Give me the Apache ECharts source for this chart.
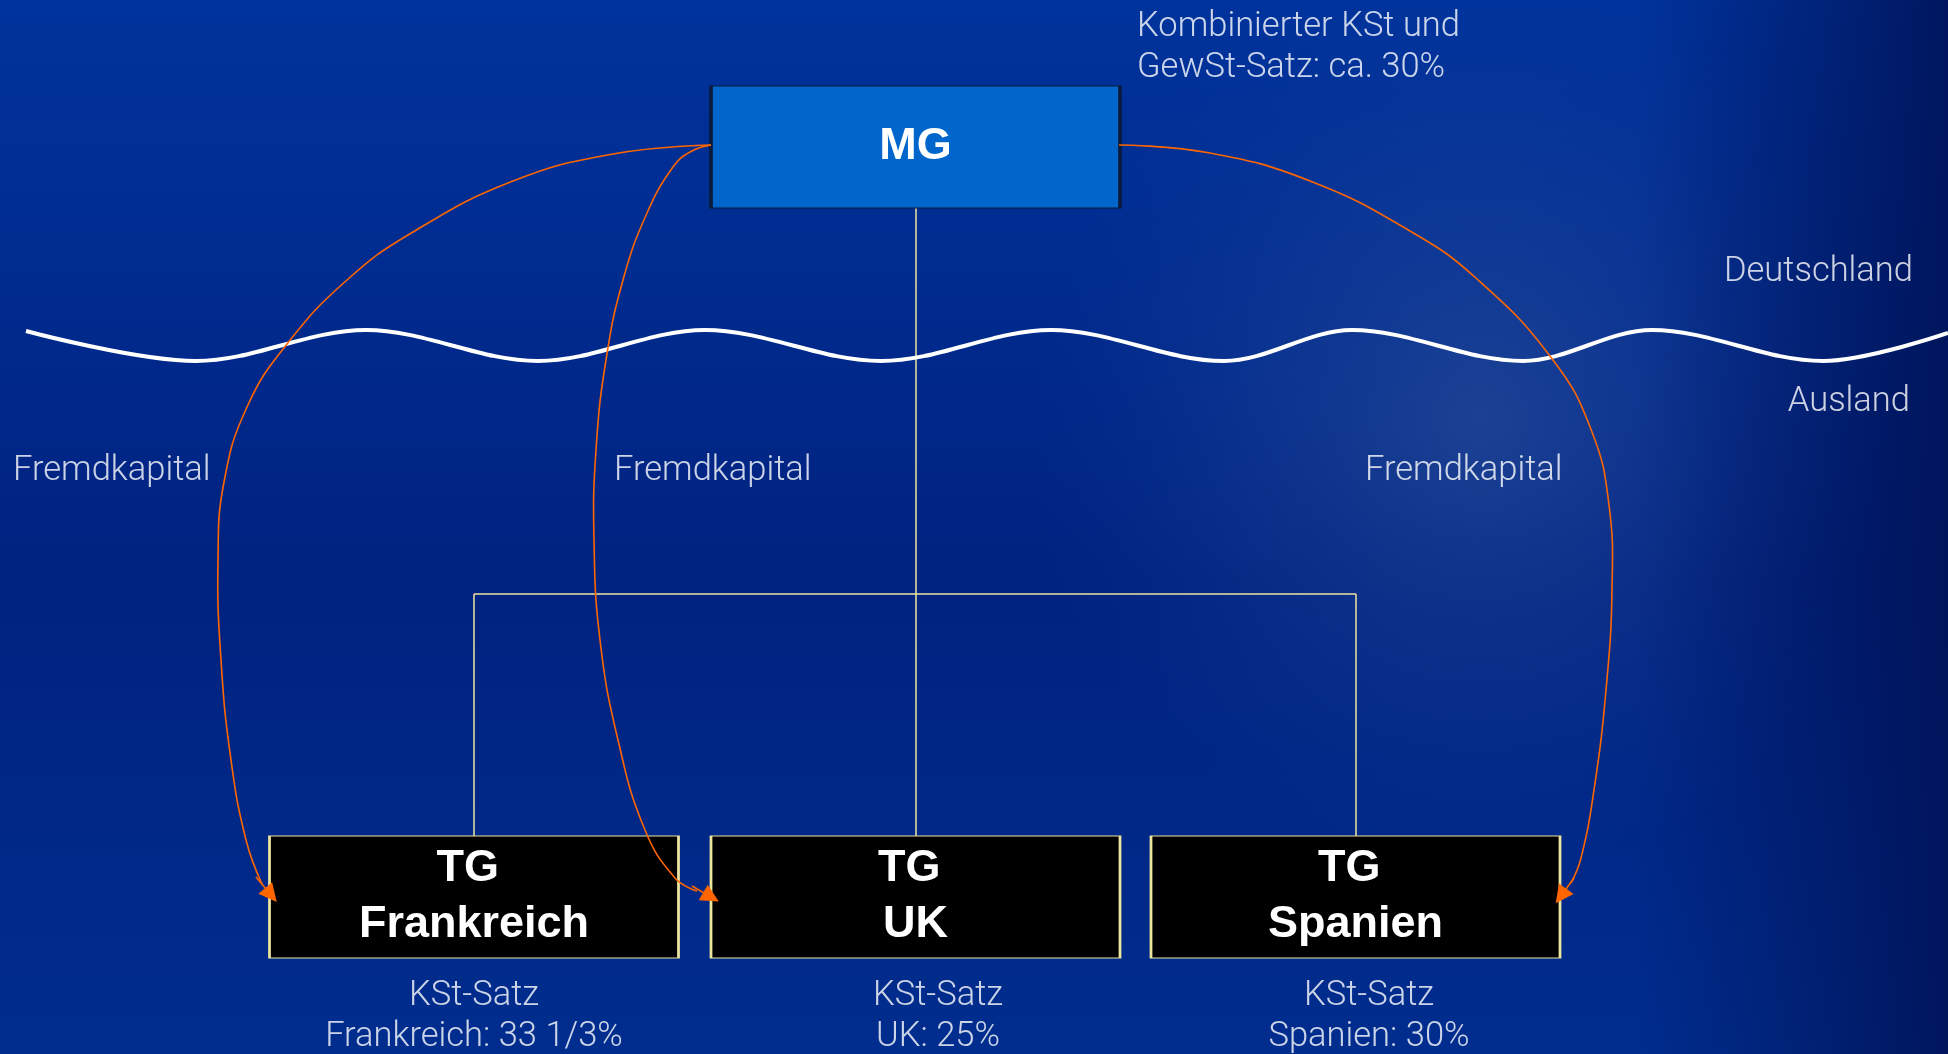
<!DOCTYPE html>
<html>
<head>
<meta charset="utf-8">
<script src="https://cdn.jsdelivr.net/npm/echarts@6/dist/echarts.min.js"></script>
<style>
  html, body { margin: 0; padding: 0; background: #002a88; }
  #chart { width: 1948px; height: 1054px; }
</style>
</head>
<body>
<div id="chart"></div>
<script>
// border between Deutschland and Ausland (peaks / troughs)
const wave = [[26, 331], [196, 361], [366, 330], [538, 361], [705, 330], [881, 361], [1051, 330],
  [1224, 361], [1352, 330], [1523, 361], [1652, 330], [1823, 361], [1948, 333]];

// Fremdkapital flows from MG to the subsidiaries
const flowFrankreich = [[711, 145], [613, 154], [513, 181], [413, 232], [347, 280], [287, 344],
  [247, 407], [224, 482], [218, 560], [221, 660], [231, 760], [246, 840], [262, 884]];
const flowUK = [[711, 145], [690, 152], [673, 167], [647, 213], [623, 280], [606, 360],
  [596, 450], [594, 540], [600, 640], [618, 740], [645, 830], [675, 878], [697, 891]];
const flowSpanien = [[1119, 145], [1210, 153], [1310, 181], [1410, 231], [1477, 279], [1553, 360],
  [1592, 432], [1609, 505], [1612, 590], [1606, 690], [1594, 790], [1581, 858], [1571, 883]];
const arrowHeads = [
  [[256, 877], [271, 895]],
  [[692, 886], [711, 897]],
  [[1574, 878], [1561, 896]]
];

// organisation chart
const boxNames = ['MG', 'TG \nFrankreich', 'TG \nUK', 'TG \nSpanien'];
const boxPos = [[915.5, 147], [474, 897], [915.5, 897], [1355.5, 897]];
const links = [
  [[915.5, 206], [915.5, 836]],
  [[474, 594], [1356, 594]],
  [[474, 594], [474, 836]],
  [[1356, 594], [1356, 836]]
];

// texts
const rateTexts = ['KSt-Satz\nFrankreich: 33 1/3%', 'KSt-Satz\nUK: 25%', 'KSt-Satz\nSpanien: 30%'];
const ratePos = [[474, 1017], [938, 1017], [1369, 1017]];
const flowTexts = ['Fremdkapital', 'Fremdkapital', 'Fremdkapital'];
const flowTextPos = [[13, 471], [614, 471], [1365, 471]];
const regionTexts = ['Deutschland', 'Ausland'];
const regionPos = [[1913, 272], [1910, 402]];
const noteText = 'Kombinierter KSt und\nGewSt-Satz: ca. 30%';
const notePos = [1137, 48];

const W = 1948, H = 1054;
const ORANGE = '#FF6600';
const PALE = '#EEE69C';
const lightFont = { color: '#FFFFFF', fontFamily: 'Roboto', fontWeight: 300, fontSize: 34.5, lineHeight: 41 };

const chart = echarts.init(document.getElementById('chart'), null, { renderer: 'canvas' });

// one smooth curve through all points of a flow, placed through the axes
function flowSeries(points) {
  return {
    type: 'custom', silent: true, z: 4,
    encode: { x: 0, y: 1 },
    data: points,
    renderItem(params, api) {
      if (params.dataIndex !== 0) return null;
      return {
        type: 'polyline',
        shape: { points: points.map(p => api.coord(p)), smooth: 0.45 },
        style: { stroke: ORANGE, lineWidth: 1.6, fill: null }
      };
    }
  };
}

function textItem(text, pos, align) {
  return { name: text, value: pos, label: { align } };
}

chart.setOption({
  animation: false,
  graphic: [
    {
      type: 'rect', z: -10, silent: true,
      shape: { x: 0, y: 0, width: W, height: H },
      style: {
        fill: new echarts.graphic.LinearGradient(0, 0, 0, 1, [
          { offset: 0, color: '#00339C' },
          { offset: 0.55, color: '#002280' },
          { offset: 1, color: '#002D8E' }
        ])
      }
    },
    {
      type: 'ellipse', z: -9, silent: true,
      shape: { cx: 1480, cy: 420, rx: 450, ry: 620 },
      style: {
        fill: new echarts.graphic.RadialGradient(0.5, 0.5, 0.5, [
          { offset: 0, color: 'rgba(70,105,165,0.4)' },
          { offset: 0.5, color: 'rgba(50,90,165,0.22)' },
          { offset: 1, color: 'rgba(30,70,160,0)' }
        ])
      }
    },
    {
      type: 'rect', z: -8, silent: true,
      shape: { x: 0, y: 0, width: W, height: H },
      style: {
        fill: new echarts.graphic.LinearGradient(0, 0, 1, 0, [
          { offset: 0, color: 'rgba(0,20,90,0)' },
          { offset: 0.84, color: 'rgba(0,20,90,0)' },
          { offset: 1, color: 'rgba(0,18,85,0.85)' }
        ])
      }
    }
  ],
  grid: { left: 0, right: 0, top: 0, bottom: 0 },
  xAxis: { type: 'value', min: 0, max: W, show: false },
  yAxis: { type: 'value', min: 0, max: H, inverse: true, show: false },
  series: [
    {
      type: 'lines', coordinateSystem: 'cartesian2d', silent: true, z: 1,
      data: links.map(c => ({ coords: c })),
      lineStyle: { color: PALE, width: 1.5, opacity: 1 }
    },
    {
      type: 'line', data: wave, smooth: 0.34, symbol: 'none', silent: true, z: 2,
      lineStyle: { color: '#FFFFFF', width: 4 }
    },
    {
      type: 'scatter', silent: true, z: 3,
      symbol: 'rect', symbolSize: [409, 122],
      itemStyle: { color: '#000000', borderColor: PALE, borderWidth: 1.5, opacity: 1 },
      label: {
        show: true, position: 'inside', formatter: p => p.name,
        color: '#FFFFFF', fontFamily: 'Liberation Sans, Arial, sans-serif',
        fontWeight: 'bold', fontSize: 45, lineHeight: 56
      },
      data: boxNames.map((n, i) => ({
        name: n, value: boxPos[i],
        itemStyle: i === 0 ? { color: '#0066CC', borderColor: '#0A1A3A', borderWidth: 2 } : undefined
      }))
    },
    flowSeries(flowFrankreich),
    flowSeries(flowUK),
    flowSeries(flowSpanien),
    {
      type: 'lines', coordinateSystem: 'cartesian2d', silent: true, z: 5,
      symbol: ['none', 'triangle'], symbolSize: 18,
      data: arrowHeads.map(c => ({ coords: c })),
      lineStyle: { color: ORANGE, width: 1.6, opacity: 1 }
    },
    {
      type: 'scatter', silent: true, z: 6,
      symbolSize: 1, itemStyle: { color: 'rgba(0,0,0,0)' },
      label: Object.assign({ show: true, position: 'inside', formatter: p => p.name, verticalAlign: 'middle' }, lightFont),
      data: [
        textItem(noteText, notePos, 'left'),
        ...flowTexts.map((t, i) => textItem(t, flowTextPos[i], 'left')),
        ...regionTexts.map((t, i) => textItem(t, regionPos[i], 'right')),
        ...rateTexts.map((t, i) => textItem(t, ratePos[i], 'center'))
      ]
    }
  ]
});
</script>
</body>
</html>
